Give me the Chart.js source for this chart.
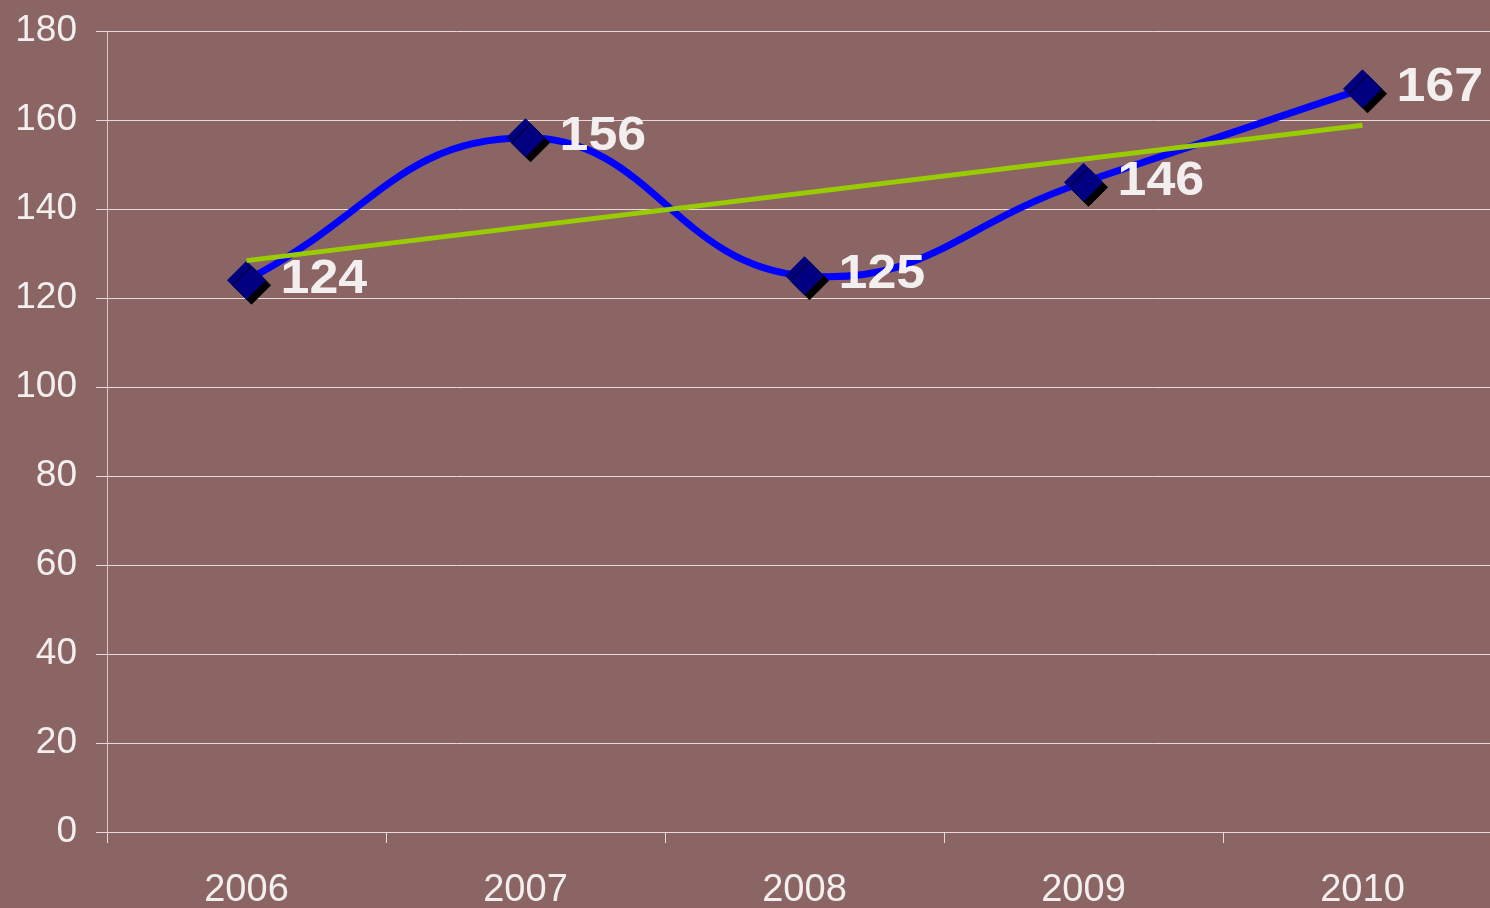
<!DOCTYPE html>
<html>
<head>
<meta charset="utf-8">
<script src="https://cdn.jsdelivr.net/npm/chart.js@4.4.1/dist/chart.umd.min.js"></script>
<style>
  html, body { margin: 0; padding: 0; background: #8b6464; overflow: hidden; }
  canvas { display: block; }
</style>
</head>
<body>
<canvas id="chart1" width="1505" height="908"></canvas>
<script>
const years = ["2006", "2007", "2008", "2009", "2010"];
const totals = [124, 156, 125, 146, 167];
// trend line: start and end only
const trendLine = [128.4, null, null, null, 158.8];
const yTicks = [0, 20, 40, 60, 80, 100, 120, 140, 160, 180];

const textColor = "#f4efef";

// black drop shadow under the diamonds only
const markerShadow = {
  id: "markerShadow",
  beforeDatasetDraw(chart, args) {
    if (args.index !== 1) return;
    const ctx = chart.ctx;
    ctx.save();
    ctx.shadowColor = "#000000";
    ctx.shadowOffsetX = 5;
    ctx.shadowOffsetY = 5;
    ctx.shadowBlur = 0;
  },
  afterDatasetDraw(chart, args) {
    if (args.index !== 1) return;
    chart.ctx.restore();
  }
};

const valueLabels = {
  id: "valueLabels",
  afterDatasetsDraw(chart) {
    const ctx = chart.ctx;
    const meta = chart.getDatasetMeta(1);
    ctx.save();
    ctx.font = "bold 49px 'Liberation Sans', Arial, sans-serif";
    ctx.fillStyle = textColor;
    ctx.textAlign = "left";
    ctx.textBaseline = "middle";
    meta.data.forEach((pt, i) => {
      ctx.save();
      ctx.translate(pt.x + 34, pt.y - 1);
      ctx.scale(1.06, 1);
      ctx.fillText(String(totals[i]), 0, 0);
      ctx.restore();
    });
    ctx.restore();
  }
};

const ctx = document.getElementById("chart1").getContext("2d");

new Chart(ctx, {
  type: "line",
  data: {
    labels: years,
    datasets: [
      {
        data: totals,
        borderColor: "#0000ff",
        borderWidth: 7,
        tension: 0.45,
        pointRadius: 0,
        order: 3
      },
      {
        data: totals,
        showLine: false,
        pointStyle: "rectRot",
        pointRadius: 19,
        pointBackgroundColor: "#000080",
        pointBorderColor: "#000080",
        pointBorderWidth: 1,
        order: 2
      },
      {
        data: trendLine,
        spanGaps: true,
        borderColor: "#99cc00",
        borderWidth: 5,
        tension: 0,
        pointRadius: 0,
        order: 1
      }
    ]
  },
  options: {
    responsive: false,
    animation: false,
    layout: { autoPadding: false, padding: { top: 31, right: 3, left: 0, bottom: 0 } },
    plugins: {
      legend: { display: false },
      tooltip: { enabled: false }
    },
    scales: {
      x: {
        offset: true,
        grid: {
          offset: true,
          drawOnChartArea: false,
          drawTicks: true,
          tickLength: 11,
          color: "#e6dada",
          lineWidth: 1
        },
        border: { color: "#e6dada", width: 1 },
        ticks: {
          color: textColor,
          font: { family: "'Liberation Sans', Arial, sans-serif", size: 38 },
          padding: 25,
          maxRotation: 0
        },
        afterFit(scale) { scale.height = 76; }
      },
      y: {
        min: 0,
        max: 180,
        afterBuildTicks(scale) { scale.ticks = yTicks.map(v => ({ value: v })); },
        grid: {
          color: "#e6dada",
          lineWidth: 1,
          tickLength: 11
        },
        border: { color: "#d8c8c8", width: 1 },
        ticks: {
          color: textColor,
          font: { family: "'Liberation Sans', Arial, sans-serif", size: 37, lineHeight: 0.6 },
          padding: 19
        },
        afterFit(scale) {
          scale.width = 107;
          scale.paddingTop = 0;
          scale.paddingBottom = 0;
        }
      }
    }
  },
  plugins: [markerShadow, valueLabels]
});
</script>
</body>
</html>
